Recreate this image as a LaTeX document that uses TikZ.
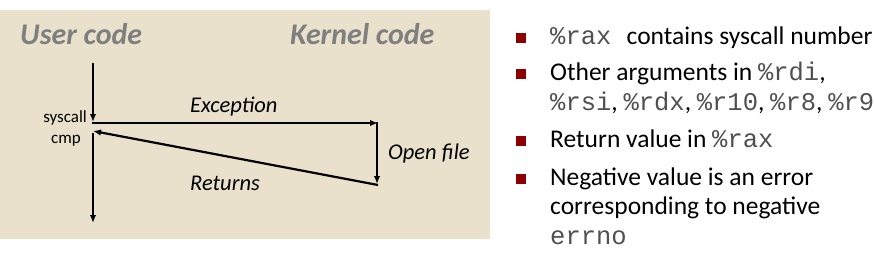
\documentclass[tikz,border=0pt]{standalone}
\usepackage{fontspec}
\setmainfont{Carlito}
\setmonofont{Liberation Mono}
\usetikzlibrary{arrows.meta}
\definecolor{bgbeige}{HTML}{E9E1CC}
\definecolor{titlegray}{HTML}{7F7F7F}
\definecolor{bulletred}{HTML}{8E0000}
\definecolor{monogray}{HTML}{505050}
\tikzset{
  flow/.style={line width=2.2pt,-{Latex[length=8pt,width=6.5pt]}},
  title/.style={font=\fontsize{30}{34}\selectfont\bfseries\itshape,text=titlegray,anchor=base west,inner sep=0pt},
  lbl/.style={font=\fontsize{22.5}{26}\selectfont\itshape,anchor=base west,inner sep=0pt},
  small/.style={font=\fontsize{17}{20}\selectfont,anchor=base east,inner sep=0pt},
  txt/.style={font=\fontsize{25.5}{30}\selectfont,anchor=base west,inner sep=0pt},
  bul/.style={fill=bulletred,minimum size=10pt,inner sep=0pt,anchor=south west},
}
\newcommand{\mc}[1]{{\ttfamily\color{monogray}#1}}
\begin{document}
\begin{tikzpicture}[x=1pt,y=-1pt]
\useasboundingbox (0,0) rectangle (874,255);
\fill[bgbeige] (0,10) rectangle (490,239);
% titles
\node[title] (user) at (20,44) {User code};
\node[title] (kern) at (290,44) {Kernel code};
% coordinates
\coordinate (a1) at (93,63);
\coordinate (a2) at (93,122);
\coordinate (e1) at (92,123);
\coordinate (e2) at (378,123);
\coordinate (o1) at (377,122);
\coordinate (o2) at (377,184);
\coordinate (r1) at (378,185);
\coordinate (r2) at (93,131);
\coordinate (d1) at (93,133);
\coordinate (d2) at (93,223);
\draw[flow] (a1) -- (a2);
\draw[flow] (e1) -- (e2);
\draw[flow] (o1) -- (o2);
\draw[flow] (r1) -- (r2);
\draw[flow] (d1) -- (d2);
% labels
\node[small] (sys) at (87,122) {syscall};
\node[small] (cmp) at (81,143) {cmp};
\node[lbl] (exc) at (190,112) {Exception};
\node[lbl] (opf) at (388,159) {Open file};
\node[lbl] (ret) at (190,190) {Returns};
% bullets
\node[bul] (b1) at (516,43) {};
\node[bul] (b2) at (516,79) {};
\node[bul] (b3) at (516,146) {};
\node[bul] (b4) at (516,184) {};
\node[txt] (t1) at (550,44) {\mc{\%rax~}contains syscall number};
\node[txt] (t2) at (550,80) {Other arguments in \mc{\%rdi},};
\node[txt] (t3) at (550,110) {\mc{\%rsi}, \mc{\%rdx}, \mc{\%r10}, \mc{\%r8}, \mc{\%r9}};
\node[txt] (t4) at (550,147) {Return value in \mc{\%rax}};
\node[txt] (t5) at (550,185) {Negative value is an error};
\node[txt] (t6) at (550,214) {corresponding to negative};
\node[txt] (t7) at (550,244) {\mc{errno}};
\end{tikzpicture}
\end{document}
